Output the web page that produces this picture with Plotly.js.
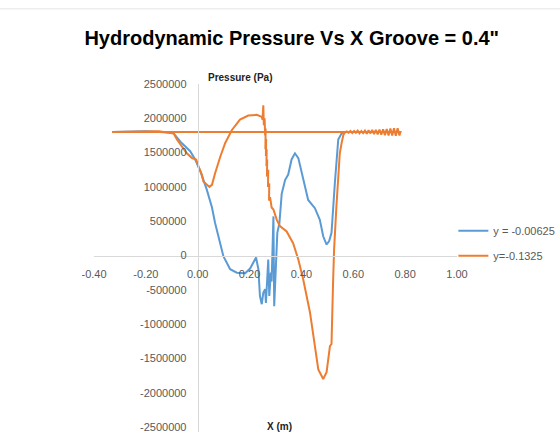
<!DOCTYPE html>
<html>
<head>
<meta charset="utf-8">
<script src="https://cdn.plot.ly/plotly-3.0.1.min.js"></script>
<style>html,body{margin:0;padding:0;background:#fff;}#chart{width:560px;height:432px;}</style>
</head>
<body>
<div id="chart"></div>
<script>
// Series y = -0.00625 (blue)
var blueX = [-0.33, -0.20, -0.095, -0.067, -0.029, -0.010, 0.010, 0.029, 0.035, 0.055, 0.067, 0.099, 0.125, 0.151, 0.183, 0.202, 0.225, 0.234, 0.240, 0.247, 0.253, 0.260, 0.263, 0.268, 0.272, 0.276, 0.282, 0.285, 0.292, 0.295, 0.302, 0.307, 0.315, 0.320, 0.324, 0.337, 0.349, 0.362, 0.375, 0.388, 0.407, 0.426, 0.452, 0.471, 0.484, 0.497, 0.507, 0.516, 0.529, 0.542, 0.555, 0.567, 0.780, -0.33];
var blueY = [1800000, 1810000, 1790000, 1660000, 1520000, 1400000, 1230000, 1030000, 960000, 700000, 475000, -10000, -200000, -250000, -260000, -190000, -30000, -200000, -590000, -710000, -540000, -490000, -690000, -350000, -60000, -590000, -250000, -380000, 570000, -740000, -110000, 330000, 470000, 810000, 900000, 1100000, 1180000, 1400000, 1490000, 1420000, 1100000, 810000, 690000, 520000, 280000, 160000, 210000, 330000, 1060000, 1690000, 1780000, 1800000, 1800000, 1800000];

// Series y = -0.1325 (orange)
var orangeX = [-0.33, -0.15, -0.093, -0.080, -0.061, -0.042, -0.022, -0.006, 0.003, 0.016, 0.022, 0.035, 0.045, 0.055, 0.067, 0.087, 0.106, 0.132, 0.163, 0.195, 0.228, 0.247, 0.250, 0.253, 0.255, 0.258, 0.260, 0.262, 0.261, 0.264, 0.263, 0.266, 0.265, 0.268, 0.267, 0.272, 0.271, 0.276, 0.275, 0.279, 0.285, 0.292, 0.305, 0.317, 0.343, 0.368, 0.388, 0.407, 0.433, 0.452, 0.465, 0.484, 0.497, 0.510, 0.516, 0.522, 0.526, 0.535, 0.542, 0.548, 0.555, 0.562, 0.570, 0.575, 0.582, 0.589, 0.596, 0.603, 0.610, 0.617, 0.624, 0.631, 0.638, 0.645, 0.652, 0.659, 0.666, 0.673, 0.680, 0.687, 0.694, 0.701, 0.708, 0.715, 0.722, 0.729, 0.736, 0.743, 0.750, 0.757, 0.764, 0.771, 0.778, 0.782, -0.33];
var orangeY = [1800000, 1810000, 1780000, 1690000, 1590000, 1490000, 1420000, 1400000, 1300000, 1180000, 1080000, 1030000, 1000000, 1030000, 1200000, 1440000, 1640000, 1830000, 1980000, 2040000, 2050000, 2020000, 1980000, 2190000, 1900000, 2000000, 1750000, 1850000, 1550000, 1700000, 1450000, 1550000, 1300000, 1400000, 1150000, 1250000, 1000000, 1050000, 800000, 850000, 700000, 670000, 520000, 430000, 350000, 180000, -60000, -350000, -830000, -1320000, -1660000, -1800000, -1700000, -1320000, -1290000, -400000, 90000, 720000, 1200000, 1490000, 1640000, 1760000, 1800000, 1810000, 1790000, 1815000, 1785000, 1815000, 1790000, 1820000, 1780000, 1815000, 1785000, 1820000, 1775000, 1825000, 1780000, 1830000, 1770000, 1830000, 1765000, 1835000, 1760000, 1840000, 1755000, 1845000, 1750000, 1850000, 1750000, 1855000, 1745000, 1855000, 1750000, 1800000, 1800000];

var seriesNames = ['y = -0.00625', 'y=-0.1325'];

var xTickVals = [-0.4, -0.2, 0, 0.2, 0.4, 0.6, 0.8, 1.0];
var xTickText = ['-0.40', '-0.20', '0.00', '0.20', '0.40', '0.60', '0.80', '1.00'];
var yTickVals = [-2500000, -2000000, -1500000, -1000000, -500000, 0, 500000, 1000000, 1500000, 2000000, 2500000];
var yTickText = ['-2500000', '-2000000', '-1500000', '-1000000', '-500000', '0', '500000', '1000000', '1500000', '2000000', '2500000'];

var FONT = 'Liberation Sans, Arial, sans-serif';
var yMin = -2572886, yMax = 2500000;
var xMin = -0.4, xMax = 1.0;

var traces = [
  {x: blueX, y: blueY, type: 'scatter', mode: 'lines', name: seriesNames[0], legendgroup: 'a',
   line: {color: '#5B9BD5', width: 2}},
  {x: orangeX, y: orangeY, type: 'scatter', mode: 'lines', name: seriesNames[1], legendgroup: 'b',
   line: {color: '#ED7D31', width: 2}}
];

var layout = {
  width: 560, height: 432,
  margin: {l: 93.5, r: 102.5, t: 84, b: 0, pad: 0, autoexpand: false},
  paper_bgcolor: '#fff', plot_bgcolor: '#fff',
  font: {family: FONT, size: 11, color: '#595959'},
  title: {text: 'Hydrodynamic Pressure Vs X Groove = 0.4"', x: 0.521, xanchor: 'center', y: 0.912, yanchor: 'middle',
          font: {family: FONT, size: 20, color: '#000', weight: 'bold'}},
  xaxis: {range: [xMin, xMax], tickvals: xTickVals, ticktext: xTickText, anchor: 'free', position: (0 - yMin) / (yMax - yMin),
          showgrid: false, zeroline: false, showline: true, linecolor: '#d9d9d9', linewidth: 1,
          ticks: '', ticklabelstandoff: 8, ticklabeloverflow: 'allow', tickfont: {family: FONT, size: 11, color: '#595959'}},
  yaxis: {range: [yMin, yMax], tickvals: yTickVals, ticktext: yTickText, anchor: 'free', position: (0 - xMin) / (xMax - xMin),
          showgrid: false, zeroline: false, showline: true, linecolor: '#d9d9d9', linewidth: 1,
          ticks: '', ticklabelstandoff: 9, ticklabeloverflow: 'allow', tickfont: {family: FONT, size: 11, color: '#595959'}},
  showlegend: true,
  legend: {x: 0.99, xanchor: 'left', y: 0.62, yanchor: 'top', tracegroupgap: 6, itemwidth: 30,
           font: {family: FONT, size: 11, color: '#595959'}, bgcolor: 'rgba(0,0,0,0)'},
  annotations: [
    {text: '<b>Pressure (Pa)</b>', xref: 'paper', yref: 'paper', x: 0.4025, y: 1.02, xanchor: 'center', yanchor: 'middle',
     showarrow: false, font: {family: FONT, size: 10, color: '#222'}},
    {text: '<b>X (m)</b>', xref: 'paper', yref: 'paper', x: 0.512, y: 0.017, xanchor: 'center', yanchor: 'middle',
     showarrow: false, font: {family: FONT, size: 10, color: '#222'}}
  ],
  shapes: [
    {type: 'line', xref: 'paper', yref: 'paper', x0: -0.3, x1: 1.3, y0: 1.216, y1: 1.216, line: {color: '#e6e6e6', width: 1}}
  ]
};

Plotly.newPlot('chart', traces, layout, {displayModeBar: false, staticPlot: true});
</script>
</body>
</html>
